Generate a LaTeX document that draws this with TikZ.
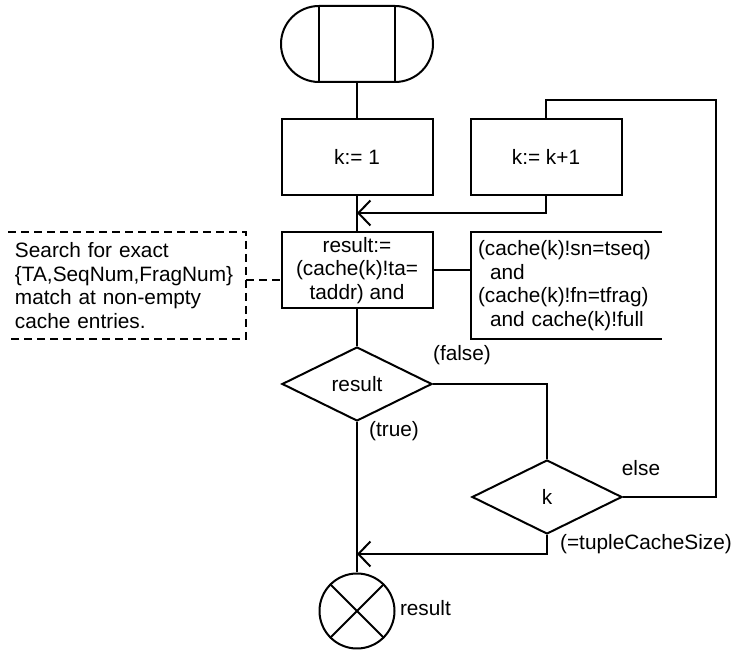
\documentclass[tikz,border=0pt]{standalone}
\usepackage{fontspec}
\setmainfont{Liberation Sans}
\usetikzlibrary{shapes.geometric, shapes.misc, arrows.meta}

\begin{document}
\begin{tikzpicture}[x=0.5pt, y=-0.5pt, line width=1pt,
    font=\fontsize{10.4}{11.75}\selectfont,
    box/.style={draw, rectangle, minimum width=75.5pt, minimum height=38pt, inner sep=0pt, align=center},
    decision/.style={draw, diamond, aspect=2, minimum width=75pt, minimum height=37pt, inner sep=0pt},
    flow/.style={-{Straight Barb[length=6pt, width=12.5pt]}},
    note/.style={anchor=west, inner xsep=3pt, inner ysep=0pt, minimum height=52.5pt, align=left},
    notedash/.style={dash pattern=on 4pt off 2.5pt}]
    \useasboundingbox (0,0) rectangle (734,651);

    \node[draw, rounded rectangle, minimum width=76pt, minimum height=38pt, inner sep=0pt] (start) at (357,44) {};
    \draw ([xshift=-19pt]start.north) -- ([xshift=-19pt]start.south);
    \draw ([xshift=19pt]start.north) -- ([xshift=19pt]start.south);

    \node[box] (init) at (357,157) {k:= 1};
    \node[box] (inc) at (546,157) {k:= k+1};
    \node[box] (res) at (357,270.5) {result:=\\(cache(k)!ta=\\taddr) and};
    \node[decision] (dec) at (357,384) {result};
    \node[decision] (chk) at (547,497) {k};
    \node[draw, circle, minimum size=37.5pt, inner sep=0pt] (stop) at (357,611) {};
    \draw (stop.north west) -- (stop.south east);
    \draw (stop.north east) -- (stop.south west);

    % comments
    \node[note, text width=112pt] (hint) at (8,285.5) {Search for exact\\\{TA,SeqNum,FragNum\}\\match at non-empty\\cache entries.};
    \draw[notedash] (hint.north west) -| (hint.south east) -- (hint.south west);
    \node[note, text width=88.5pt] (cond) at (471,285.5) {(cache(k)!sn=tseq)\\\hspace*{6pt}and\\(cache(k)!fn=tfrag)\\\hspace*{6pt}and cache(k)!full};
    \draw (cond.north east) -- (cond.north west) -- (cond.south west) -- (cond.south east);

    \coordinate (j1) at (357,213);
    \coordinate (j2) at (357,554);
    \coordinate (loop) at (716,100);

    \draw (start.south) -- (init.north);
    \draw (init.south) -- (res.north);
    \draw[flow] (inc.south) |- (j1);
    \draw[notedash] ([yshift=2.5pt]hint.east) -- ([yshift=2.5pt]hint.east -| res.west);
    \draw (res.east) -- (res.east -| cond.west);
    \draw (res.south) -- (dec.north);
    \draw (dec.south) -- (stop.north);
    \draw (dec.east) -| (chk.north);
    \draw[flow] (chk.south) |- (j2);
    \draw (chk.east) -| (loop) -| (inc.north);

    \node (lfalse) at (462,355) {(false)};
    \node (ltrue) at (394,431) {(true)};
    \node (lelse) at (641,468) {else};
    \node (lsize) at (646,544) {(=tupleCacheSize)};
    \node[anchor=west, inner sep=0pt] (lres) at (399,608) {result};
\end{tikzpicture}
\end{document}
